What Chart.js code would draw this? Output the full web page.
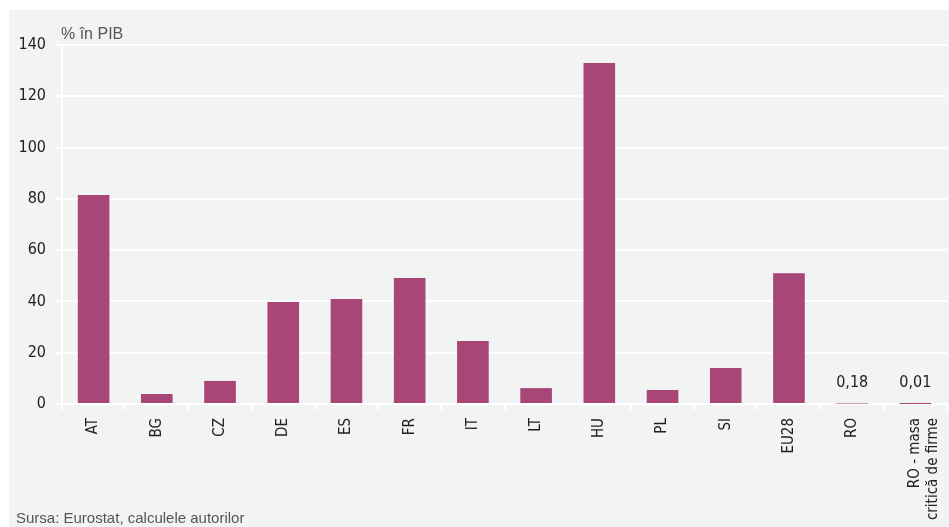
<!DOCTYPE html>
<html lang="ro">
<head>
<meta charset="utf-8">
<title>% în PIB</title>
<script src="https://cdn.jsdelivr.net/npm/chart.js@4/dist/chart.umd.min.js"></script>
<style>
  html, body { margin: 0; padding: 0; background: #ffffff; }
  canvas { display: block; }
</style>
</head>
<body>
<canvas id="chart" width="949" height="527"></canvas>
<script>
// Country codes along the x axis (the last one wraps onto two lines)
const categories = ['AT', 'BG', 'CZ', 'DE', 'ES', 'FR', 'IT', 'LT', 'HU', 'PL', 'SI', 'EU28', 'RO', ['RO - masa', 'critică de firme']];
// Values, % of GDP
const values = [81.5, 3.9, 9.0, 39.8, 40.9, 49.1, 24.6, 6.2, 133.0, 5.5, 14.0, 51.0, 0.18, 0.01];
// Bars whose value is written above them
const annotated = [false, false, false, false, false, false, false, false, false, false, false, false, true, true];
// Y axis range
const yMin = 0;
const yMax = 140;
const yStep = 20;

const unitLabel = '% în PIB';
const sourceNote = 'Sursa: Eurostat, calculele autorilor';

const narrow = "'Liberation Sans Narrow', 'DejaVu Sans Condensed', 'Liberation Sans', sans-serif";
const regular = "'Liberation Sans', Arial, sans-serif";

const panelPlugin = {
  id: 'panel',
  beforeDraw(chart) {
    const ctx = chart.ctx;
    ctx.save();
    ctx.fillStyle = '#f2f3f3';
    ctx.fillRect(9, 10, chart.width - 9, chart.height - 10);
    ctx.restore();
  },
  afterDraw(chart) {
    const ctx = chart.ctx;
    ctx.save();
    ctx.fillStyle = '#555555';
    ctx.textBaseline = 'alphabetic';
    ctx.textAlign = 'left';
    ctx.font = '16px ' + regular;
    ctx.fillText(unitLabel, chart.chartArea.left - 1, 39);
    ctx.font = '15px ' + regular;
    ctx.fillText(sourceNote, 16, 523);

    // value labels above the small bars
    const meta = chart.getDatasetMeta(0);
    ctx.fillStyle = '#222222';
    ctx.textAlign = 'center';
    ctx.font = '16px ' + narrow;
    meta.data.forEach((bar, i) => {
      if (!annotated[i]) return;
      const txt = values[i].toFixed(2).replace('.', ',');
      ctx.fillText(txt, bar.x, bar.y - 17);
    });
    ctx.restore();
  }
};

new Chart(document.getElementById('chart'), {
  type: 'bar',
  data: {
    labels: categories,
    datasets: [{
      data: values,
      backgroundColor: '#a84677',
      borderWidth: 0,
      categoryPercentage: 1.0,
      barPercentage: 0.5
    }]
  },
  options: {
    responsive: false,
    animation: false,
    devicePixelRatio: 1,
    layout: { padding: { top: 45, right: 2, left: 0, bottom: 0 } },
    plugins: {
      legend: { display: false },
      tooltip: { enabled: false }
    },
    scales: {
      x: {
        afterFit(scale) {
          scale.height = 123;
          scale.paddingLeft = 0;
          scale.paddingRight = 0;
        },
        grid: {
          offset: true,
          drawOnChartArea: false,
          drawTicks: true,
          tickLength: 6,
          color: '#ffffff',
          lineWidth: 2
        },
        border: { display: true, color: '#ffffff', width: 2 },
        ticks: {
          minRotation: 90,
          maxRotation: 90,
          autoSkip: false,
          padding: 8,
          color: '#222222',
          font: { family: narrow, size: 15 }
        }
      },
      y: {
        min: yMin,
        max: yMax,
        afterFit(scale) { scale.width = 62; },
        grid: {
          color: '#ffffff',
          lineWidth: 2,
          drawTicks: true,
          tickLength: 7
        },
        border: { display: true, color: '#ffffff', width: 2 },
        ticks: {
          stepSize: yStep,
          padding: 9,
          color: '#222222',
          font: { family: narrow, size: 16 }
        }
      }
    }
  },
  plugins: [panelPlugin]
});
</script>
</body>
</html>
